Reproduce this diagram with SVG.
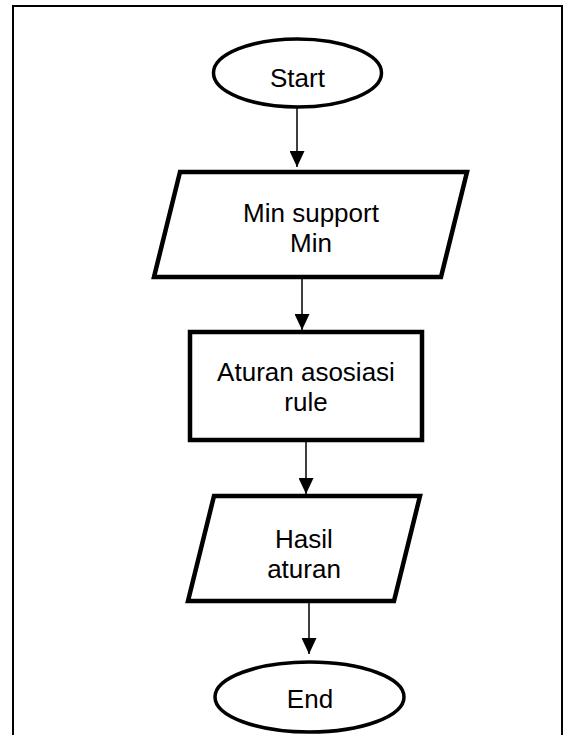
<svg xmlns="http://www.w3.org/2000/svg" width="572" height="735" viewBox="0 0 572 735">
<style>
  .frame { fill: none; stroke: #000; stroke-width: 2; }
  .term { fill: #fff; stroke: #000; stroke-width: 3.5; }
  .box { fill: #fff; stroke: #000; stroke-width: 4.5; stroke-linejoin: miter; }
  .lbl { font-family: "Liberation Sans", Arial, sans-serif; font-size: 26px; fill: #000; text-anchor: middle; }
  .conn { stroke: #000; stroke-width: 1.5; fill: none; marker-end: url(#arrow); }
</style>
<defs>
  <marker id="arrow" markerUnits="userSpaceOnUse" viewBox="0 0 16 15" markerWidth="16" markerHeight="15" refX="16" refY="7.5" orient="auto">
    <path d="M0,0 L16,7.5 L0,15 Z" fill="#000"/>
  </marker>
</defs>
<rect class="frame" x="13" y="6" width="549" height="760"/>
<g id="connectors">
  <line class="conn" x1="297" y1="108" x2="297" y2="167"/>
  <line class="conn" x1="302" y1="279" x2="302" y2="330"/>
  <line class="conn" x1="306" y1="442" x2="306" y2="494"/>
  <line class="conn" x1="309" y1="603" x2="309" y2="654"/>
</g>
<g id="start">
  <ellipse class="term" cx="297.5" cy="73" rx="84" ry="34"/>
  <text class="lbl" x="297.5" y="87">Start</text>
</g>
<g id="input">
  <polygon class="box" points="180,172 467,172 441,277 154,277"/>
  <text class="lbl" x="311" y="222">Min support</text>
  <text class="lbl" x="311" y="252">Min</text>
</g>
<g id="process">
  <rect class="box" x="190" y="332" width="232" height="108"/>
  <text class="lbl" x="306" y="381">Aturan asosiasi</text>
  <text class="lbl" x="306" y="411">rule</text>
</g>
<g id="output">
  <polygon class="box" points="214,496 420,496 394,601 188,601"/>
  <text class="lbl" x="304" y="548">Hasil</text>
  <text class="lbl" x="304" y="578">aturan</text>
</g>
<g id="end">
  <ellipse class="term" cx="309.5" cy="697" rx="94.5" ry="35"/>
  <text class="lbl" x="310" y="708">End</text>
</g>
</svg>
